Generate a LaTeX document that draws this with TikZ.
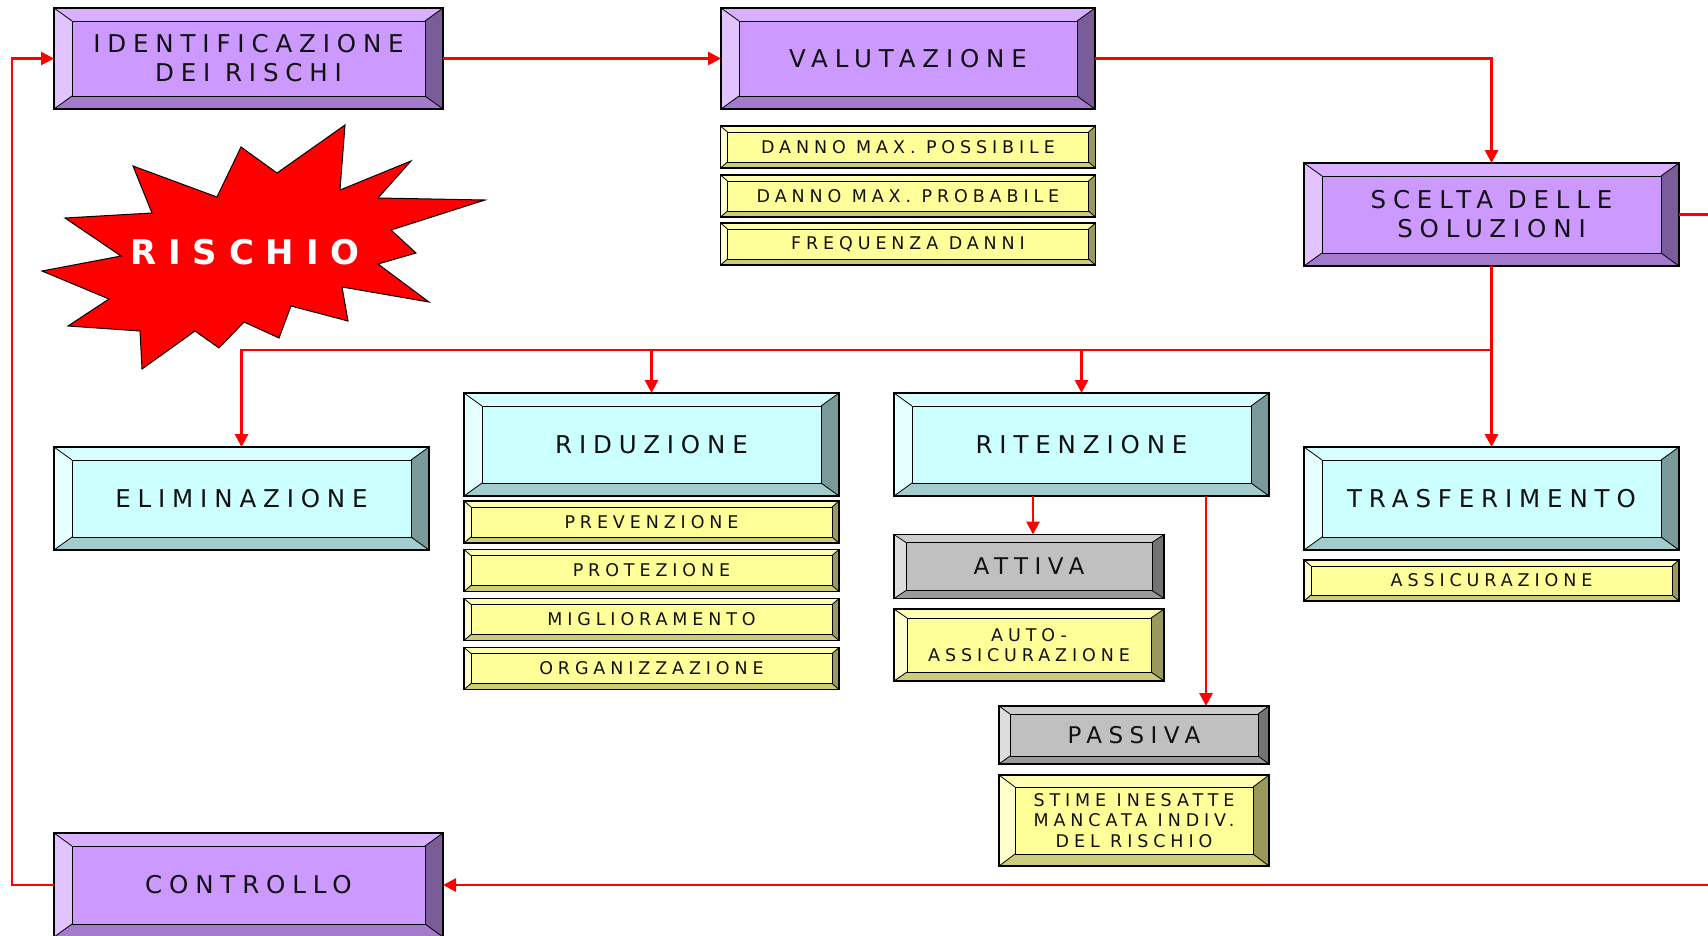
\documentclass[tikz,border=0pt]{standalone}
\usepackage{fontspec}
\newfontfamily\boxfont[LetterSpace=28]{DejaVu Sans}
\newfontfamily\boomfont[LetterSpace=35]{DejaVu Sans}
\usepackage{tikz}
\usetikzlibrary{arrows.meta}
\definecolor{ink}{HTML}{111111}
\definecolor{purpF}{HTML}{CC99FF}
\definecolor{purpT}{HTML}{D8B0FF}
\definecolor{purpL}{HTML}{E1C4FF}
\definecolor{purpB}{HTML}{A37ACC}
\definecolor{purpR}{HTML}{7A5C99}
\definecolor{aquaF}{HTML}{CCFFFF}
\definecolor{aquaT}{HTML}{D8FFFF}
\definecolor{aquaL}{HTML}{E6FFFF}
\definecolor{aquaB}{HTML}{A3CCCC}
\definecolor{aquaR}{HTML}{7A9999}
\definecolor{yellF}{HTML}{FFFF99}
\definecolor{yellT}{HTML}{FFFFB3}
\definecolor{yellL}{HTML}{FFFFCC}
\definecolor{yellB}{HTML}{CCCC7A}
\definecolor{yellR}{HTML}{99995C}
\definecolor{greyF}{HTML}{C0C0C0}
\definecolor{greyT}{HTML}{CDCDCD}
\definecolor{greyL}{HTML}{DDDDDD}
\definecolor{greyB}{HTML}{9A9A9A}
\definecolor{greyR}{HTML}{737373}

\begin{document}
\begin{tikzpicture}[x=1pt,y=-1pt,
    bevel/.style n args={3}{fill=#1F, draw=black, line width=1.2pt, inner sep=0pt, outer sep=0pt, text=ink, align=center,
      path picture={
        \coordinate (p1) at (path picture bounding box.north west);
        \coordinate (p2) at (path picture bounding box.north east);
        \coordinate (p3) at (path picture bounding box.south east);
        \coordinate (p4) at (path picture bounding box.south west);
        \coordinate (q1) at ([shift={(#2pt,-#3pt)}]p1);
        \coordinate (q2) at ([shift={(-#2pt,-#3pt)}]p2);
        \coordinate (q3) at ([shift={(-#2pt,#3pt)}]p3);
        \coordinate (q4) at ([shift={(#2pt,#3pt)}]p4);
        \fill[#1T] (p1) -- (p2) -- (q2) -- (q1) -- cycle;
        \fill[#1L] (p1) -- (q1) -- (q4) -- (p4) -- cycle;
        \fill[#1B] (p4) -- (q4) -- (q3) -- (p3) -- cycle;
        \fill[#1R] (p2) -- (p3) -- (q3) -- (q2) -- cycle;
        \draw[line width=0.8pt] (p1) -- (q1) (p2) -- (q2) (p3) -- (q3) (p4) -- (q4);
        \draw[line width=1pt] (q1) rectangle (q3);
      }},
    bigtext/.style={font=\boxfont\fontsize{24.5}{29}\selectfont},
    smalltext/.style={font=\boxfont\fontsize{17.5}{20.5}\selectfont},
    phase/.style={bevel={purp}{18}{13}, minimum width=389pt, minimum height=101pt, bigtext},
    option/.style={bevel={aqua}{18}{13}, minimum width=375pt, minimum height=103pt, bigtext},
    detail/.style={bevel={yell}{7}{6}, minimum width=375pt, minimum height=42pt, smalltext},
    mode/.style={bevel={grey}{12}{8}, minimum width=270pt, bigtext, font=\boxfont\fontsize{23}{27}\selectfont},
    note/.style={bevel={yell}{13}{9}, minimum width=270pt, smalltext},
    wire/.style={draw=red, line width=2.8pt},
    link/.style={wire, -{Triangle[length=13pt,width=13pt]}}]
  \useasboundingbox[fill=white] (0,0) rectangle (1708,935);

  % phases of the process
  \node[phase] (ident) at (248.5,58.5) {IDENTIFICAZIONE\\DEI RISCHI};
  \node[phase, minimum width=374pt] (valut) at (908,58.5) {VALUTAZIONE};
  \node[phase, minimum width=375pt, minimum height=103pt] (scelta) at (1491.5,214.5) {SCELTA DELLE\\SOLUZIONI};
  \node[phase, minimum height=104pt] (ctrl) at (248.5,885) {CONTROLLO};

  \node[detail] (dposs) at (908,147) {DANNO MAX. POSSIBILE};
  \node[detail] (dprob) at (908,196) {DANNO MAX. PROBABILE};
  \node[detail] (freq) at (908,244) {FREQUENZA DANNI};

  % starburst
  \draw[fill=red, line width=1pt] (345,125) -- (340,190) -- (411,161) -- (378,198) -- (485,200)
    -- (391,230) -- (416,253) -- (378,264) -- (429,302) -- (342,287) -- (348,321) -- (291,306)
    -- (279,338) -- (244,322) -- (219,348) -- (195,331) -- (142,369) -- (140,331) -- (68,326)
    -- (109,299) -- (42,271) -- (121,256) -- (65,218) -- (152,213) -- (133,166) -- (217,197)
    -- (241,147) -- (277,173) -- cycle;
  \node[text=white, font=\boomfont\bfseries\fontsize{34}{40}\selectfont] (boom) at (245,252) {RISCHIO};

  % options
  \node[option] (elim) at (241.5,498.5) {ELIMINAZIONE};
  \node[option] (ridu) at (651.5,444.5) {RIDUZIONE};
  \node[option] (riten) at (1081.5,444.5) {RITENZIONE};
  \node[option] (trasf) at (1491.5,498.5) {TRASFERIMENTO};

  \node[detail] (prev) at (651.5,522) {PREVENZIONE};
  \node[detail] (prot) at (651.5,570.5) {PROTEZIONE};
  \node[detail] (migl) at (651.5,619.5) {MIGLIORAMENTO};
  \node[detail] (org) at (651.5,668.5) {ORGANIZZAZIONE};

  \node[mode, minimum height=64pt] (attiva) at (1029,566.5) {ATTIVA};
  \node[note, minimum height=72pt] (auto) at (1029,645) {AUTO-\\ASSICURAZIONE};
  \node[mode, minimum height=58pt, bevel={grey}{11}{8}] (passiva) at (1134,735) {PASSIVA};
  \node[note, minimum height=91pt, bevel={yell}{16}{12}] (stime) at (1134,820.5) {STIME INESATTE\\MANCATA INDIV.\\DEL RISCHIO};

  \node[detail, minimum height=41pt] (assic) at (1491.5,580.5) {ASSICURAZIONE};

  % connectors
  \coordinate (fork) at (1491.5,350);
  \coordinate (edgeA) at (1712,214.5);
  \coordinate (edgeB) at (1712,885);
  \coordinate (drop) at ([xshift=72pt]passiva.north);
  \draw[link] (ctrl.west) -- ++(-42,0) |- (ident.west);
  \draw[link] (ident.east) -- (valut.west);
  \draw[link] (valut.east) -| (scelta.north);
  \draw[wire] (scelta.east) -- (edgeA);
  \draw[link] (edgeB) -- (ctrl.east);
  \draw[link] (scelta.south) -- (trasf.north);
  \draw[link] (fork) -| (elim.north);
  \draw[link] (fork -| ridu.north) -- (ridu.north);
  \draw[link] (fork -| riten.north) -- (riten.north);
  \draw[link] ([xshift=4pt]riten.south -| attiva.north) -- ([xshift=4pt]attiva.north);
  \draw[link] (riten.south -| drop) -- (drop);
\end{tikzpicture}
\end{document}
